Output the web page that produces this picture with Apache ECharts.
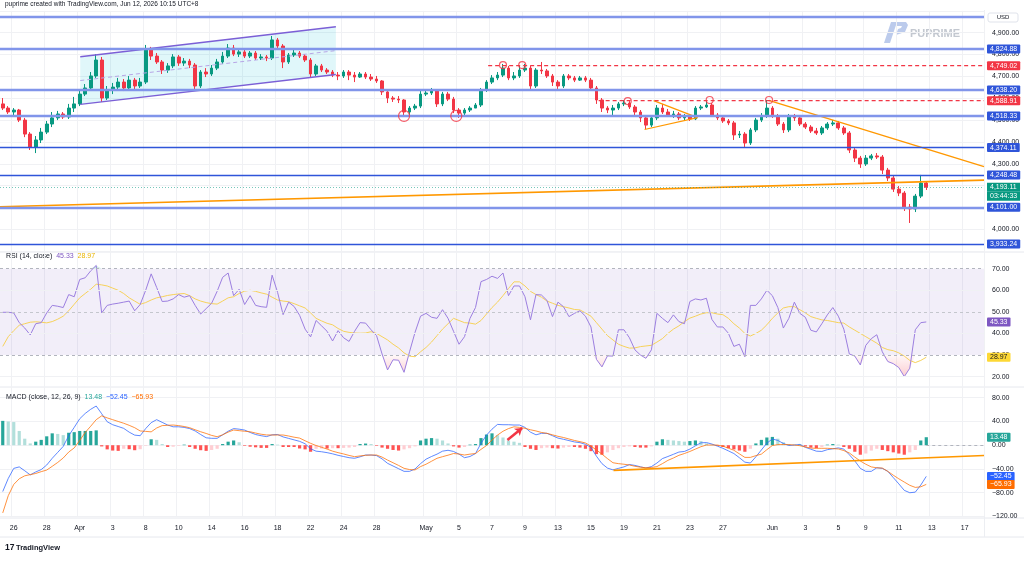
<!DOCTYPE html>
<html><head><meta charset="utf-8">
<script src="https://cdn.jsdelivr.net/npm/echarts@6.0.0/dist/echarts.min.js"></script>
<style>html,body{margin:0;padding:0;background:#fff}#c{width:1024px;height:562px}</style>
</head><body><div id="c"></div><script>
// ---------- DATA ----------
const timeLabels = ['26','28','Apr','3','8','10','14','16','18','22','24','28','May','5','7','9','13','15','19','21','23','27','Jun','3','5','9','11','13','17'];
const timeLabelBars = [2,8,14,20,26,32,38,44,50,56,62,68,77,83,89,95,101,107,113,119,125,131,140,146,152,157,163,169,175];
const totalSlots = 179;

// [open, close, low, high]
const candles = [
[4574,4555,4546,4601],[4555,4537,4528,4564],[4537,4546,4519,4555],[4546,4500,4491,4551],[4500,4436,4422,4510],
[4436,4377,4363,4445],[4377,4409,4349,4427],[4409,4445,4395,4464],[4445,4482,4436,4496],[4482,4510,4468,4537],
[4510,4528,4500,4542],[4528,4514,4505,4537],[4514,4555,4505,4574],[4555,4574,4537,4606],[4574,4619,4564,4638],
[4619,4647,4610,4665],[4647,4702,4638,4720],[4702,4775,4693,4802],[4775,4601,4583,4789],[4601,4638,4592,4656],
[4638,4651,4619,4670],[4651,4674,4638,4693],[4674,4647,4633,4688],[4647,4683,4638,4702],[4683,4656,4642,4693],
[4656,4674,4647,4693],[4674,4821,4665,4844],[4821,4793,4775,4835],[4793,4766,4757,4807],[4766,4729,4711,4775],
[4729,4748,4716,4761],[4748,4789,4738,4802],[4789,4761,4748,4798],[4761,4770,4748,4784],[4770,4752,4738,4780],
[4752,4656,4638,4761],[4656,4720,4647,4729],[4720,4711,4697,4738],[4711,4738,4702,4752],[4738,4766,4729,4780],
[4766,4793,4757,4812],[4793,4830,4784,4848],[4830,4802,4793,4844],[4802,4812,4789,4825],[4812,4793,4784,4821],
[4793,4807,4784,4816],[4807,4784,4775,4816],[4784,4789,4775,4802],[4789,4784,4770,4798],[4784,4867,4775,4885],
[4867,4839,4830,4876],[4839,4766,4738,4848],[4766,4798,4757,4807],[4798,4807,4789,4821],[4807,4793,4784,4816],
[4793,4775,4766,4802],[4775,4711,4693,4784],[4711,4748,4702,4757],[4748,4729,4720,4757],[4729,4720,4711,4738],
[4720,4706,4697,4729],[4706,4702,4683,4720],[4702,4720,4693,4729],[4720,4706,4683,4729],[4706,4697,4674,4720],
[4697,4711,4693,4720],[4711,4697,4688,4720],[4697,4688,4679,4711],[4688,4679,4670,4702],[4679,4629,4615,4683],
[4629,4601,4578,4638],[4601,4596,4583,4610],[4596,4592,4578,4610],[4592,4537,4514,4596],[4537,4555,4523,4564],
[4555,4564,4546,4574],[4564,4619,4555,4633],[4619,4624,4610,4638],[4624,4633,4615,4647],[4633,4574,4560,4642],
[4574,4619,4564,4629],[4619,4596,4587,4629],[4596,4546,4532,4606],[4546,4532,4510,4555],[4532,4546,4523,4555],
[4546,4555,4537,4564],[4555,4569,4555,4578],[4569,4638,4560,4647],[4638,4674,4629,4683],[4674,4693,4665,4706],
[4693,4706,4683,4720],[4706,4738,4697,4757],[4738,4693,4683,4748],[4693,4702,4683,4720],[4702,4729,4693,4748],
[4729,4738,4720,4757],[4738,4656,4642,4748],[4656,4729,4647,4738],[4729,4725,4711,4766],[4725,4702,4693,4734],
[4702,4674,4656,4711],[4674,4656,4638,4683],[4656,4702,4647,4711],[4702,4693,4683,4711],[4693,4683,4674,4702],
[4683,4693,4679,4702],[4693,4683,4674,4702],[4683,4647,4638,4693],[4647,4592,4574,4656],[4592,4555,4537,4601],
[4555,4546,4532,4564],[4546,4555,4523,4569],[4555,4574,4546,4583],[4574,4578,4564,4592],[4578,4560,4551,4587],
[4560,4537,4523,4569],[4537,4510,4491,4546],[4510,4477,4459,4519],[4477,4510,4468,4519],[4510,4555,4500,4569],
[4555,4537,4528,4574],[4537,4523,4514,4551],[4523,4528,4510,4542],[4528,4510,4500,4537],[4510,4519,4500,4528],
[4519,4505,4496,4528],[4505,4555,4500,4564],[4555,4560,4546,4569],[4560,4569,4555,4592],[4569,4523,4514,4578],
[4523,4510,4500,4532],[4510,4496,4487,4519],[4496,4487,4477,4505],[4487,4432,4409,4496],[4432,4436,4418,4450],
[4436,4395,4377,4445],[4395,4455,4386,4464],[4455,4500,4445,4510],[4500,4519,4491,4532],[4519,4555,4510,4592],
[4555,4519,4510,4564],[4519,4482,4473,4528],[4482,4455,4441,4491],[4455,4519,4445,4528],[4519,4510,4496,4528],
[4510,4482,4473,4519],[4482,4468,4459,4491],[4468,4450,4441,4477],[4450,4441,4432,4464],[4441,4464,4432,4473],
[4464,4482,4455,4491],[4482,4487,4473,4500],[4487,4464,4455,4496],[4464,4441,4432,4473],[4441,4363,4349,4450],
[4363,4326,4308,4372],[4326,4299,4281,4336],[4299,4326,4290,4340],[4326,4336,4317,4345],[4336,4331,4322,4349],
[4331,4271,4253,4340],[4271,4235,4221,4281],[4235,4184,4171,4244],[4184,4166,4152,4198],[4166,4102,4084,4175],
[4102,4093,4029,4116],[4093,4152,4079,4162],[4152,4212,4143,4249],[4212,4193.11,4180,4221]
];

const rsi = [49.8,49.8,49.5,45,42.5,39.3,44.5,45,49.5,53,52.6,52,58,57,65,65.8,69,71.5,49.5,53,
53.6,54,54.5,55,50.5,53.4,60,67.6,61.3,54.8,55,56,58,56.8,57.5,53,49,51.5,54,59.5,
66,68,57.5,60.5,53.4,57.5,53,52.4,52.1,67,59,48.7,54.5,52.5,48.4,42,38.4,46,43.5,41,
36.5,41.3,38,36.3,41,45,44.8,41.7,39,30.5,23.1,27.8,27.6,22,31.5,40.5,48,49.3,47.5,47,
51,47,41,35,38.5,47,52,64,65,66.5,65.5,68,57.5,62,62,57,46.3,58,57.8,55.3,
47.8,54.5,52.4,47.8,49.3,50.5,48,43,28,24.5,29.6,29.5,41.7,41.7,38,32.4,30,28.5,32.4,49.3,
47,45,48.6,45.5,44.5,54.8,56,55.5,56.3,46.5,43,43,40.1,34,35,29.2,53,53,56,60,
57.5,52,42.5,47,54.5,49.3,47.5,41.5,40.7,44.5,48.6,52,48,42,30.5,29.5,25.4,34.5,37.6,39.4,
31.5,27,26,24.2,20,23.9,41.7,45,45.33];

const rsiMa = [34,38.5,41.3,43.8,44.5,45.2,45.4,45.2,44.9,45.5,46.6,48,50.5,53.5,56.5,58.5,60.5,62.8,62.5,62,
61,60,58.5,56.5,55,53.5,54.3,55.5,56.5,57,57.6,58,58.3,58.5,57.5,56,55,54.3,53.8,53.6,
55,56.5,57,58.5,59.6,60,59.5,58.8,58.2,56.8,55.5,55,54.7,53.8,52.8,51.8,49.5,47,45.8,44.7,
44,42.3,41,40.5,40.2,40.1,40.2,40.8,40,38.5,37,35,33.3,31,29.5,29.2,31.5,33.5,36,39,
42,44.5,47,46,45,44.8,44.3,46,49,52,54.5,57.5,60.8,63.9,63.9,62,59.5,58,56.8,55,
54,53,52.4,51.8,51.1,50.9,49.5,48,45,42,39,37,35,34,33.2,33.3,33.9,34.2,34.5,36,
37.6,40,42,43.5,45.5,47.1,48,49,49.6,49.6,49,48.7,47,44.5,42.5,40,38.8,40,41.5,44,
47,49.5,51.8,52.4,52.4,51,49.5,47.8,47,46.3,46,45.5,45,44.8,43,41.5,40,38.5,37,35.5,
33.5,32.5,32,31,29.5,27.5,26.5,27.5,28.97];

const macd = [-78,-56,-39,-36.5,-43,-50,-45,-41,-33.3,-22,-12,-2,16,30,44.5,53.5,60.5,66,53,39.5,
34.5,31.5,28.4,22,17,16,28,38,43,38.5,34,31,31,30,28,24,18,12.5,11.6,11.6,
17.5,23.5,28,27,25.5,21.5,18,16,14.5,17.5,18,14,11.5,9,6.5,2.5,-6,-10,-11,-12.5,
-14.5,-17,-19,-21,-22,-19.5,-16.5,-16.5,-17.5,-23,-30.5,-35,-39.5,-44,-44,-40,-31,-23.5,-19,-15,
-10,-8.5,-10.5,-15,-21,-19,-14,3.2,17,27,35,34.5,34.5,34,34,30,22,17.5,20,20,
16,12,10,7.8,5.5,4.3,1.5,-3.5,-18.5,-31,-38.5,-41.5,-39,-36.5,-32.5,-34,-36.3,-38.5,-36,-30,
-22.5,-19,-15.3,-11.5,-10.5,-6.5,-1,4,4.5,2,-1.5,-5.2,-9.5,-14,-21,-28.5,-30,-19.5,-8,3.5,
10.5,8,3,-0.5,0.3,1.3,-3.5,-6.7,-10,-10.5,-7.5,-6,-4.5,-6.5,-16,-26.5,-39,-44,-44,-38,
-39,-44,-54.5,-65,-76,-80,-79,-67,-52.45];

const signal = [-114,-85,-66,-56.5,-51.5,-49.5,-47.6,-44.5,-41.8,-35.5,-29,-21.5,-11.5,-4.5,8,21.5,32,43,49.5,46,
43,40,37,33.5,29.5,24,23.3,22.5,29,33,33.5,34,33,31.5,29.5,26,22.7,19.8,16.5,14.3,
17.5,22,25.6,24.5,23.5,22.7,20.5,18.5,17.3,17.2,17.2,17.2,15.5,13.5,12,7.5,3.2,-0.5,-3.5,-6.5,
-10,-12.5,-14.7,-17.2,-19.3,-18,-17,-16.5,-16.5,-20,-25,-29.5,-34,-38.9,-41,-41.6,-36,-32,-27,-22,
-19.3,-16.8,-14,-14.8,-16.5,-15,-14,-7,-0.5,8.8,17,23.5,28,31,30,28.5,26,24,21.5,20,
17.5,15,13,10.5,8,6,3.8,-1.5,-8,-15,-22.5,-29.5,-31,-32,-33.3,-35.5,-37,-37.9,-37.5,-36,
-31,-25.5,-21.5,-17,-14,-10.5,-6.5,-2.5,0.3,0.3,0.3,-1.5,-5,-8.5,-14.5,-20.5,-20.5,-17.5,-15,-7.5,
-0.5,1,1.2,1,0.3,-0.8,-3,-4.8,-5.2,-5.2,-5.2,-5.8,-6.3,-9,-13,-20,-26.6,-32,-36.5,-38,
-38.5,-44,-50.5,-56.5,-62,-67.5,-71,-70,-65.93];

const hist = [41,40,39,24,11,3,6,9,15,20,19,17,21,22,24,24,24,25,-2,-7,
-9,-9.5,-6,-6.7,-8.4,-6.7,-1,10,9,2,-3,-2.5,-1,1,-3,-6,-8.4,-9.5,-8,-6,
2,6,8,5,-1,-2.5,-3.5,-4.5,-4.5,2,1,-3,-3,-3,-5.5,-7,-11,-6,-5.6,-5.6,
-5,-5,-4.5,-4,-3,2,2.8,2,-1,-4,-6,-8,-9,-7,-5,-2,8,11,12,11,
8,3,-2,-4,-3,1,2,12,18,20,17,13,8,6,4,-3,-6,-8,-5,-4,
-5,-5.6,-4,-3,-3,-4,-6,-10,-15,-16,-12,-8,-5,-3,-2,-3,-4,-4,-2,6,
10,9,8,7,6,7,8,7,3,1,-1,-3,-5,-7,-9,-11,-6,3,9,13,
14,11,5,2,1,1,-2,-4,-5,-3,1,2,1,-3,-6,-11,-16,-14,-9,-6,
-8,-10,-12,-14,-16,-12,-8,8,13.48];

// horizontal levels
const supportResist = [4973, 4824.88, 4638.20, 4518.33, 4374.11, 4248.48, 4101.00, 3933.24];
const heavyLevels = [4973, 4824.88, 4638.20, 4518.33, 4101.00];
const redLevelA = [[88.3, 4749.02], [178.5, 4749.02]];
const redLevelB = [[108.4, 4588.91], [178.5, 4588.91]];
const countdown = '03:44:33';

// drawings (bar index, price)
const trendLong = [[-0.5, 4103], [178.5, 4225]];
const trendDown = [[139.5, 4589], [178.5, 4287]];
const triUpper = [[118.4, 4589], [126.4, 4511]];
const triLower = [[116.75, 4457], [126.4, 4511]];
const chUpper = [[14.1, 4790], [60.6, 4927]];
const chLower = [[14.1, 4572], [60.6, 4709]];
const chMid = [[14.1, 4681], [60.6, 4818]];
const circlesBig = [[73, 4519], [82.5, 4519]];
const circlesSmall = [[91, 4752], [94.5, 4752], [113.7, 4587], [128.6, 4592], [139.4, 4592]];
const macdTrend = [[111.1, -42.3], [178.5, -17.2]];
const macdArrow = [[91.8, 8.8], [94.5, 29]];

// ---------- CHART ----------
const FONT = '"Liberation Sans", Arial, sans-serif';
const cats = Array.from({length: totalSlots}, (_, i) => String(i));
const labelMap = {};
timeLabelBars.forEach((b, k) => { labelMap[b] = timeLabels[k]; });
const fmt = v => (v < 0 ? '\u2212' : '') + Math.abs(v).toLocaleString('en-US', {minimumFractionDigits: 2, maximumFractionDigits: 2});
const GRID_LINE = '#f0f1f4';

function catAxis(gi, showLabels) {
  return {
    type: 'category', gridIndex: gi, data: cats, boundaryGap: true,
    axisLine: {show: false}, axisTick: {show: false},
    axisLabel: {show: showLabels, interval: (i) => labelMap[i] !== undefined,
      formatter: (v) => labelMap[v] || '', fontSize: 7, color: '#131722', margin: 8, fontFamily: FONT},
    splitLine: {show: true, interval: (i) => labelMap[i] !== undefined, lineStyle: {color: GRID_LINE, width: 1}}
  };
}
function valAxis(gi) {
  return {type: 'value', gridIndex: gi, min: -0.5, max: totalSlots - 0.5, show: false};
}
function yAx(gi, min, max, interval, extra) {
  return Object.assign({
    type: 'value', gridIndex: gi, position: 'right', min, max, interval, scale: false,
    axisLine: {show: false}, axisTick: {show: false},
    axisLabel: {formatter: fmt, fontSize: 7, color: '#131722', margin: 8, fontFamily: FONT, align: 'left'},
    splitLine: {show: true, lineStyle: {color: GRID_LINE, width: 1}}
  }, extra || {});
}
function tag(text, bg, fg) {
  return {show: true, position: 'end', formatter: text, backgroundColor: bg, color: fg || '#fff',
    padding: [1, 3, 1, 3], fontSize: 7, fontFamily: FONT, distance: 3, borderRadius: 1};
}
function segLine(data, color, width, type, extra) {
  return Object.assign({type: 'line', xAxisIndex: 1, yAxisIndex: 0, data, symbol: 'none', silent: true, z: 4,
    lineStyle: {color, width, type: type || 'solid'}}, extra || {});
}
function redLevel(data) {
  return segLine(data, '#f23645', 1.2, [4, 3], {
    endLabel: {show: true, formatter: fmt(data[1][1]), backgroundColor: '#f23645', color: '#fff',
      padding: [1, 3, 1, 3], fontSize: 7, fontFamily: FONT, distance: 3, borderRadius: 1}});
}

const levelMarks = supportResist.map(v => {
  const heavy = heavyLevels.includes(v);
  return {yAxis: v,
    lineStyle: {color: heavy ? '#8195ea' : '#2f55d9', width: heavy ? 2.4 : 1.4, type: 'solid'},
    label: v === 4973 ? {show: false} : tag(fmt(v), '#2f55d9')};
});
const lastClose = candles[candles.length - 1][1];
levelMarks.push({yAxis: lastClose, lineStyle: {color: 'rgba(8,153,129,0.55)', width: 1, type: [1, 2]},
  label: {show: true, position: 'end', distance: 3, fontFamily: FONT, color: '#fff',
    formatter: '{s| }\n{p|' + fmt(lastClose) + '}\n{t|' + countdown + '}',
    rich: {
      s: {lineHeight: 9, fontSize: 7},
      p: {backgroundColor: '#089981', color: '#fff', fontSize: 7, lineHeight: 9, height: 9, width: 28, padding: [0, 2, 0, 3], fontFamily: FONT},
      t: {backgroundColor: '#089981', color: '#fff', fontSize: 7, lineHeight: 9, height: 9, width: 28, padding: [0, 2, 0, 3], fontFamily: FONT}
    }}});

const histData = hist.map((v, i) => {
  const prev = i > 0 ? hist[i - 1] : v;
  let c;
  if (v >= 0) c = v >= prev ? '#26a69a' : '#b2dfdb';
  else c = v <= prev ? '#ff5252' : '#ffcdd2';
  return {value: v, itemStyle: {color: c}};
});

const rsiLast = rsi[rsi.length - 1], maLast = rsiMa[rsiMa.length - 1];
const hLast = hist[hist.length - 1], mLast = macd[macd.length - 1], sLast = signal[signal.length - 1];
const hidden = {color: 'rgba(0,0,0,0)', width: 0};

const option = {
  animation: false,
  backgroundColor: '#ffffff',
  textStyle: {fontFamily: FONT},
  grid: [
    {left: 0, right: 40, top: 10.86, height: 240.3},
    {left: 0, right: 40, top: 247.1, height: 151.1},
    {left: 0, right: 40, top: 397.7, height: 118.8}
  ],
  xAxis: [catAxis(0, false), valAxis(0), catAxis(1, false), valAxis(1), catAxis(2, true), valAxis(2)],
  yAxis: [
    yAx(0, 3900, 5000, 100, {axisLabel: {formatter: fmt, fontSize: 7, color: '#131722', margin: 8, fontFamily: FONT, align: 'left', showMinLabel: false, showMaxLabel: false}}),
    yAx(1, 10, 80, 10, {splitLine: {show: false}, axisLabel: {formatter: fmt, fontSize: 7, color: '#131722', margin: 8, fontFamily: FONT, align: 'left', showMinLabel: false, showMaxLabel: false}}),
    yAx(2, -120, 80, 40)
  ],
  series: [
    // channel fill
    {type: 'custom', xAxisIndex: 1, yAxisIndex: 0, data: [[chUpper[0][0], chUpper[0][1]]], silent: true, z: 1,
      renderItem: (params, api) => ({type: 'polygon',
        shape: {points: [api.coord(chUpper[0]), api.coord(chUpper[1]), api.coord(chLower[1]), api.coord(chLower[0])]},
        style: {fill: 'rgba(0,188,212,0.12)'}})},
    {type: 'candlestick', name: 'XAUUSD', xAxisIndex: 0, yAxisIndex: 0, data: candles, barWidth: '58%', z: 3,
      itemStyle: {color: '#089981', color0: '#f23645', borderColor: '#089981', borderColor0: '#f23645', borderWidth: 1},
      markLine: {symbol: 'none', silent: true, animation: false, data: levelMarks}},
    segLine(chUpper, '#7b5fd6', 1.4),
    segLine(chLower, '#7b5fd6', 1.4),
    segLine(chMid, '#b7a6e6', 1, [4, 3]),
    segLine(trendLong, '#ff9800', 1.6),
    segLine(trendDown, '#ff9800', 1.4),
    segLine(triUpper, '#ff9800', 1.2),
    segLine(triLower, '#ff9800', 1.2),
    redLevel(redLevelA),
    redLevel(redLevelB),
    {type: 'scatter', xAxisIndex: 1, yAxisIndex: 0, data: circlesBig, symbol: 'circle', symbolSize: 11, silent: true, z: 5,
      itemStyle: {color: 'rgba(0,0,0,0)', borderColor: '#f23645', borderWidth: 1.2}},
    {type: 'scatter', xAxisIndex: 1, yAxisIndex: 0, data: circlesSmall, symbol: 'circle', symbolSize: 7, silent: true, z: 5,
      itemStyle: {color: 'rgba(0,0,0,0)', borderColor: '#f23645', borderWidth: 1.2}},

    // RSI pane
    {type: 'line', name: 'RSI band', xAxisIndex: 2, yAxisIndex: 1, data: [], silent: true,
      markArea: {silent: true, itemStyle: {color: 'rgba(126,87,194,0.1)'}, data: [[{yAxis: 30}, {yAxis: 70}]]},
      markLine: {symbol: 'none', silent: true, animation: false, label: {show: false}, data: [
        {yAxis: 70, lineStyle: {color: '#b2b5be', type: [3, 3], width: 1}},
        {yAxis: 50, lineStyle: {color: '#c4c6cd', type: [3, 3], width: 1}},
        {yAxis: 30, lineStyle: {color: '#b2b5be', type: [3, 3], width: 1}},
        {yAxis: 60, lineStyle: {color: GRID_LINE, type: 'solid', width: 1}},
        {yAxis: 40, lineStyle: {color: GRID_LINE, type: 'solid', width: 1}},
        {yAxis: 20, lineStyle: {color: GRID_LINE, type: 'solid', width: 1}}
      ]}},
    {type: 'line', name: 'oversold', xAxisIndex: 2, yAxisIndex: 1, data: rsi.map(v => Math.min(v, 30)), symbol: 'none', silent: true,
      lineStyle: {width: 0}, areaStyle: {origin: 30, color: {type: 'linear', x: 0, y: 0, x2: 0, y2: 1,
        colorStops: [{offset: 0, color: 'rgba(242,54,69,0.05)'}, {offset: 1, color: 'rgba(242,54,69,0.35)'}]}}},
    {type: 'line', name: 'overbought', xAxisIndex: 2, yAxisIndex: 1, data: rsi.map(v => Math.max(v, 70)), symbol: 'none', silent: true,
      lineStyle: {width: 0}, areaStyle: {origin: 70, color: 'rgba(8,153,129,0.25)'}},
    {type: 'line', name: 'RSI MA', xAxisIndex: 2, yAxisIndex: 1, data: rsiMa, symbol: 'none', silent: true,
      lineStyle: {color: '#f7d25a', width: 1},
      markLine: {symbol: 'none', silent: true, animation: false, data: [{yAxis: maLast, lineStyle: hidden, label: tag(fmt(maLast), '#fdd835', '#131722')}]}},
    {type: 'line', name: 'RSI', xAxisIndex: 2, yAxisIndex: 1, data: rsi, symbol: 'none', silent: true,
      lineStyle: {color: '#9c7fe0', width: 1},
      markLine: {symbol: 'none', silent: true, animation: false, data: [{yAxis: rsiLast, lineStyle: hidden, label: tag(fmt(rsiLast), '#7e57c2')}]}},

    // MACD pane
    {type: 'bar', name: 'Histogram', xAxisIndex: 4, yAxisIndex: 2, data: histData, barWidth: '58%', silent: true,
      markLine: {symbol: 'none', silent: true, animation: false, data: [{yAxis: hLast, lineStyle: hidden, label: tag(fmt(hLast), '#26a69a')}]}},
    {type: 'line', name: 'MACD', xAxisIndex: 4, yAxisIndex: 2, data: macd, symbol: 'none', silent: true,
      lineStyle: {color: '#2962ff', width: 1, opacity: 0.75},
      markLine: {symbol: 'none', silent: true, animation: false, data: [{yAxis: mLast, lineStyle: hidden, label: tag(fmt(mLast), '#2962ff')}]}},
    {type: 'line', name: 'Signal', xAxisIndex: 4, yAxisIndex: 2, data: signal, symbol: 'none', silent: true,
      lineStyle: {color: '#ff6d00', width: 1, opacity: 0.75},
      markLine: {symbol: 'none', silent: true, animation: false, data: [{yAxis: sLast, lineStyle: hidden, label: tag(fmt(sLast), '#ff6d00')}]}},
    {type: 'line', xAxisIndex: 5, yAxisIndex: 2, data: macdTrend, symbol: 'none', silent: true, z: 4,
      lineStyle: {color: '#ff9800', width: 1.6},
      markLine: {silent: true, animation: false, label: {show: false}, data: [
        [{coord: macdArrow[0], symbol: 'none', lineStyle: {color: '#f23645', width: 2.5, type: 'solid'}}, {coord: macdArrow[1], symbol: 'arrow', symbolSize: 7}],
        [{coord: [candles.length - 1, 0], symbol: 'none', lineStyle: {color: '#b2b5be', width: 1, type: [3, 3]}}, {coord: [totalSlots - 0.5, 0], symbol: 'none'}]
      ]}}
  ],
  graphic: [
    {type: 'text', left: 5, top: 1, style: {text: 'puprime created with TradingView.com, Jun 12, 2026 10:15 UTC+8', fontSize: 6.5, fill: '#131722', fontFamily: FONT}},
    {type: 'line', shape: {x1: 0, y1: 252, x2: 1024, y2: 252}, style: {stroke: '#e6e8ee', lineWidth: 1}, silent: true},
    {type: 'line', shape: {x1: 0, y1: 387, x2: 1024, y2: 387}, style: {stroke: '#e6e8ee', lineWidth: 1}, silent: true},
    {type: 'line', shape: {x1: 0, y1: 518, x2: 1024, y2: 518}, style: {stroke: '#e6e8ee', lineWidth: 1}, silent: true},
    {type: 'line', shape: {x1: 0, y1: 537, x2: 1024, y2: 537}, style: {stroke: '#e6e8ee', lineWidth: 1}, silent: true},
    {type: 'line', shape: {x1: 984.5, y1: 10, x2: 984.5, y2: 537}, style: {stroke: '#eceef2', lineWidth: 1}, silent: true},
    {type: 'rect', shape: {x: 988, y: 13, width: 30, height: 9, r: 2}, style: {fill: '#fff', stroke: '#e0e3eb', lineWidth: 1}, z: 100},
    {type: 'text', x: 1003, y: 17.5, style: {text: 'USD', fontSize: 6, fill: '#131722', align: 'center', verticalAlign: 'middle', fontFamily: FONT}, z: 101},
    {type: 'text', left: 6, top: 253, style: {fontFamily: FONT, fontSize: 7,
      text: '{a|RSI (14, close)}  {b|' + fmt(rsiLast) + '}  {c|' + fmt(maLast) + '}',
      rich: {a: {fill: '#131722', fontSize: 7}, b: {fill: '#7e57c2', fontSize: 7}, c: {fill: '#e9b400', fontSize: 7}}}},
    {type: 'text', left: 6, top: 394, z: 50, style: {fontFamily: FONT, fontSize: 7,
      text: '{a|MACD (close, 12, 26, 9)}  {b|' + fmt(hLast) + '}  {c|' + fmt(mLast) + '}  {d|' + fmt(sLast) + '}',
      rich: {a: {fill: '#131722', fontSize: 7}, b: {fill: '#26a69a', fontSize: 7}, c: {fill: '#2962ff', fontSize: 7}, d: {fill: '#ff6d00', fontSize: 7}}}},
    // PU Prime watermark
    {type: 'polygon', shape: {points: [[884, 43], [890, 43], [897, 22], [891, 22]]}, style: {fill: '#bccbec'}, silent: true},
    {type: 'polygon', shape: {points: [[894, 22], [906, 22], [908, 25], [905, 32], [896, 35], [898, 29], [901, 28], [902, 26], [896, 26]]}, style: {fill: '#bccbec'}, silent: true},
    {type: 'text', x: 910, y: 34, style: {text: 'PUPRIME', fontSize: 11, fontWeight: 'bold', fill: '#c3c8d0', verticalAlign: 'middle', fontFamily: FONT}, silent: true},
    // TradingView logo
    {type: 'text', x: 5, y: 548, style: {text: '17', fontSize: 8.5, fontWeight: 'bold', fill: '#131722', verticalAlign: 'middle', fontFamily: FONT}},
    {type: 'text', x: 16, y: 548, style: {text: 'TradingView', fontSize: 7.5, fontWeight: 'bold', fill: '#131722', verticalAlign: 'middle', fontFamily: FONT}}
  ]
};
const chart = echarts.init(document.getElementById('c'), null, {renderer: 'canvas'});
chart.setOption(option);
</script></body></html>
